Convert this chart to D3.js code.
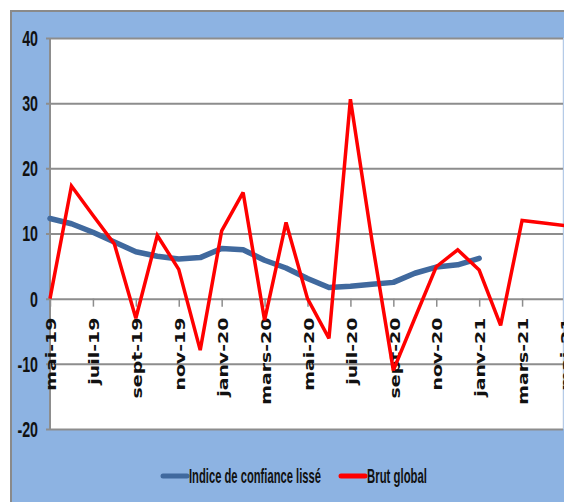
<!DOCTYPE html>
<html>
<head>
<meta charset="utf-8">
<script src="https://cdn.jsdelivr.net/npm/d3@7"></script>
<style>
  body { margin: 0; background: #fff; }
  svg { display: block; }
</style>
</head>
<body>
<div id="chart"></div>
<script>
// months, one point per month
var months = ["mai-19","juin-19","juil-19","août-19","sept-19","oct-19","nov-19","déc-19",
  "janv-20","févr-20","mars-20","avr-20","mai-20","juin-20","juil-20","août-20","sept-20",
  "oct-20","nov-20","déc-20","janv-21","févr-21","mars-21","avr-21","mai-21"];

// Indice de confiance lissé (stops at janv-21)
var indice = [12.3, 11.5, 10.2, 8.7, 7.2, 6.5, 6.1, 6.3, 7.7, 7.5, 5.9, 4.7, 3.1,
  1.7, 1.9, 2.2, 2.5, 3.9, 4.85, 5.2, 6.2];

// Brut global
var brut = [0, 17.3, 12.8, 8.4, -3.0, 9.7, 4.5, -7.9, 10.4, 16.3, -3.3, 11.7, 0,
  -6.1, 30.6, 9, -11, -3, 4.9, 7.5, 4.4, -4.1, 12, 11.6, 11.2];

var yTicks = [-20, -10, 0, 10, 20, 30, 40];
var seriesNames = ["Indice de confiance lissé", "Brut global"];
var seriesColors = ["#40699e", "#ff0000"];

var W = 564, H = 502;
var plot = {left: 50, right: 565, top: 38, bottom: 429};

var svg = d3.select("#chart").append("svg")
  .attr("width", W)
  .attr("height", H);

// outer chart area
svg.append("rect")
  .attr("x", 11).attr("y", 11)
  .attr("width", W - 11).attr("height", H - 11)
  .attr("fill", "#8db3e2");
svg.append("path")
  .attr("d", "M11," + H + "V11H" + W)
  .attr("fill", "none")
  .attr("stroke", "#8a8a8a")
  .attr("stroke-width", 2);

// plot area
svg.append("rect")
  .attr("x", plot.left).attr("y", plot.top)
  .attr("width", 563 - plot.left).attr("height", plot.bottom - plot.top)
  .attr("fill", "#fff");
svg.append("line")
  .attr("x1", 563).attr("x2", 563)
  .attr("y1", plot.top).attr("y2", plot.bottom)
  .attr("stroke", "#dde4ee").attr("stroke-width", 1);

var x = d3.scalePoint()
  .domain(months)
  .range([plot.left, plot.right]);

var y = d3.scaleLinear()
  .domain([-20, 40])
  .range([plot.bottom, plot.top]);

// gridlines + y ticks
var yAxis = d3.axisLeft(y)
  .tickValues(yTicks)
  .tickSize(-(563 - plot.left + 4))
  .tickSizeOuter(0)
  .tickFormat("");

var gy = svg.append("g")
  .attr("transform", "translate(" + (plot.left - 4) + ",0)")
  .call(yAxis);
gy.select(".domain").remove();
gy.selectAll(".tick line")
  .attr("stroke", "#8d8d8d")
  .attr("stroke-width", 2);

// y labels, tall and narrow like the original
svg.selectAll(".ylab")
  .data(yTicks)
  .enter().append("text")
  .attr("class", "ylab")
  .attr("transform", function(d){ return "translate(38," + y(d) + ") scale(0.95,1.45)"; })
  .attr("dy", "0.36em")
  .attr("text-anchor", "end")
  .style("font-family", "'Liberation Sans Narrow', 'Liberation Sans', sans-serif")
  .style("font-weight", "bold")
  .style("font-size", "15px")
  .style("fill", "#111")
  .text(function(d){ return d; });

// left axis line
svg.append("line")
  .attr("x1", plot.left).attr("x2", plot.left)
  .attr("y1", plot.top).attr("y2", plot.bottom)
  .attr("stroke", "#8d8d8d")
  .attr("stroke-width", 2);

// x axis sits on y = 0, ticks every two months
var shown = months.filter(function(d, i){ return i % 2 === 0; });

var xAxis = d3.axisBottom(x)
  .tickValues(shown)
  .tickSize(8)
  .tickSizeOuter(0)
  .tickFormat("");

var gx = svg.append("g")
  .attr("transform", "translate(0," + y(0) + ")")
  .call(xAxis);
gx.select(".domain").remove();
gx.selectAll(".tick line")
  .attr("stroke", "#8d8d8d")
  .attr("stroke-width", 1.5);

svg.selectAll(".xlab")
  .data(shown)
  .enter().append("text")
  .attr("class", "xlab")
  .attr("transform", function(d){ return "translate(" + (x(d) + 1) + "," + (y(0) + 19) + ") rotate(-90) scale(1.35,1)"; })
  .attr("dy", "0.37em")
  .attr("text-anchor", "end")
  .style("font-family", "'DejaVu Sans', Verdana, sans-serif")
  .style("font-weight", "bold")
  .style("font-size", "14px")
  .style("fill", "#111")
  .text(function(d){ return d; });

// series
var line = d3.line()
  .x(function(d, i){ return x(months[i]); })
  .y(function(d){ return y(d); });

svg.append("path")
  .datum(indice)
  .attr("d", line)
  .attr("fill", "none")
  .attr("stroke", seriesColors[0])
  .attr("stroke-width", 5.5)
  .attr("stroke-linejoin", "round")
  .attr("stroke-linecap", "round");

svg.append("path")
  .datum(brut)
  .attr("d", line)
  .attr("fill", "none")
  .attr("stroke", seriesColors[1])
  .attr("stroke-width", 3.5)
  .attr("stroke-linejoin", "miter")
  .attr("stroke-miterlimit", 3);

// legend
var legend = [
  {name: seriesNames[0], color: seriesColors[0], x: 163, len: 132},
  {name: seriesNames[1], color: seriesColors[1], x: 341, len: 60}
];

var lg = svg.selectAll(".leg")
  .data(legend)
  .enter().append("g")
  .attr("class", "leg");

lg.append("line")
  .attr("x1", function(d){ return d.x; })
  .attr("x2", function(d){ return d.x + 24; })
  .attr("y1", 476).attr("y2", 476)
  .attr("stroke", function(d){ return d.color; })
  .attr("stroke-width", 5)
  .attr("stroke-linecap", "round");

lg.append("text")
  .attr("transform", function(d){ return "translate(" + (d.x + 26) + ",483) scale(1,1.4)"; })
  .attr("textLength", function(d){ return d.len; })
  .attr("lengthAdjust", "spacingAndGlyphs")
  .style("font-family", "'Liberation Sans Narrow', 'Liberation Sans', sans-serif")
  .style("font-weight", "bold")
  .style("font-size", "15px")
  .style("fill", "#111")
  .text(function(d){ return d.name; });
</script>
</body>
</html>
